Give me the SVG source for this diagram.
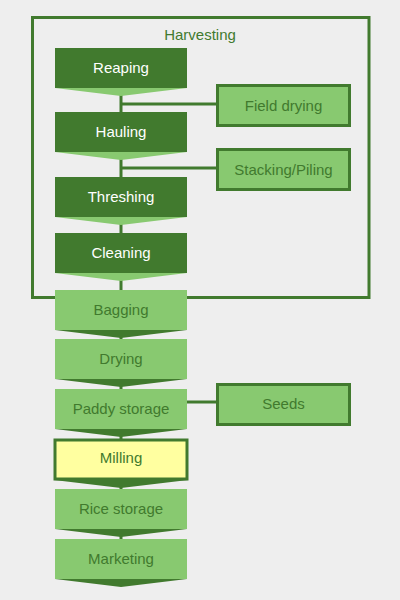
<svg xmlns="http://www.w3.org/2000/svg" width="400" height="600" viewBox="0 0 400 600">
<style>
.t{font-family:"Liberation Sans",Arial,sans-serif;font-size:15px;text-anchor:middle}
.w{fill:#ffffff}
.g{fill:#417a2e}
.dk{fill:#417a2e}
.lt{fill:#88c970}
.ye{fill:#ffffa0}
.box{fill:#88c970;stroke:#417a2e;stroke-width:3}
.con{stroke:#417a2e;stroke-width:3;fill:none}
</style>
<rect width="400" height="600" fill="#eeeeee"/>
<g id="harvesting">
<rect x="32.5" y="17.5" width="336.5" height="280" fill="none" stroke="#417a2e" stroke-width="3"/>
<text class="t g" x="200" y="40">Harvesting</text>
</g>
<g id="connectors">
<path class="con" d="M121 90V545"/>
<path class="con" d="M121 104H218"/>
<path class="con" d="M121 168H218"/>
<path class="con" d="M187 402H218"/>
</g>
<g id="reaping">
<rect class="dk" x="55" y="48" width="132" height="40"/>
<polygon class="lt" points="55,88 187,88 121,96"/>
<text class="t w" x="121" y="73">Reaping</text>
</g>
<g id="hauling">
<rect class="dk" x="55" y="112" width="132" height="40"/>
<polygon class="lt" points="55,152 187,152 121,160"/>
<text class="t w" x="121" y="137">Hauling</text>
</g>
<g id="threshing">
<rect class="dk" x="55" y="177" width="132" height="40"/>
<polygon class="lt" points="55,217 187,217 121,225"/>
<text class="t w" x="121" y="202">Threshing</text>
</g>
<g id="cleaning">
<rect class="dk" x="55" y="233" width="132" height="40"/>
<polygon class="lt" points="55,273 187,273 121,281"/>
<text class="t w" x="121" y="258">Cleaning</text>
</g>
<g id="bagging">
<rect class="lt" x="55" y="290" width="132" height="40"/>
<polygon class="dk" points="55,330 187,330 121,338"/>
<text class="t g" x="121" y="315">Bagging</text>
</g>
<g id="drying">
<rect class="lt" x="55" y="339" width="132" height="40"/>
<polygon class="dk" points="55,379 187,379 121,387"/>
<text class="t g" x="121" y="364">Drying</text>
</g>
<g id="paddy-storage">
<rect class="lt" x="55" y="389" width="132" height="40"/>
<polygon class="dk" points="55,429 187,429 121,437"/>
<text class="t g" x="121" y="414">Paddy storage</text>
</g>
<g id="milling">
<rect x="55" y="440" width="132" height="39" fill="#ffffa0" stroke="#417a2e" stroke-width="3"/>
<polygon class="dk" points="54,480 188,480 121,488"/>
<text class="t g" x="121" y="463">Milling</text>
</g>
<g id="rice-storage">
<rect class="lt" x="55" y="489" width="132" height="40"/>
<polygon class="dk" points="55,529 187,529 121,537"/>
<text class="t g" x="121" y="514">Rice storage</text>
</g>
<g id="marketing">
<rect class="lt" x="55" y="539" width="132" height="40"/>
<polygon class="dk" points="55,579 187,579 121,587"/>
<text class="t g" x="121" y="564">Marketing</text>
</g>
<g id="field-drying">
<rect class="box" x="217.5" y="85.5" width="132" height="40"/>
<text class="t g" x="283.5" y="110.5">Field drying</text>
</g>
<g id="stacking-piling">
<rect class="box" x="217.5" y="149.5" width="132" height="40"/>
<text class="t g" x="283.5" y="174.5">Stacking/Piling</text>
</g>
<g id="seeds">
<rect class="box" x="217.5" y="384.5" width="132" height="40"/>
<text class="t g" x="283.5" y="408.5">Seeds</text>
</g>
</svg>
